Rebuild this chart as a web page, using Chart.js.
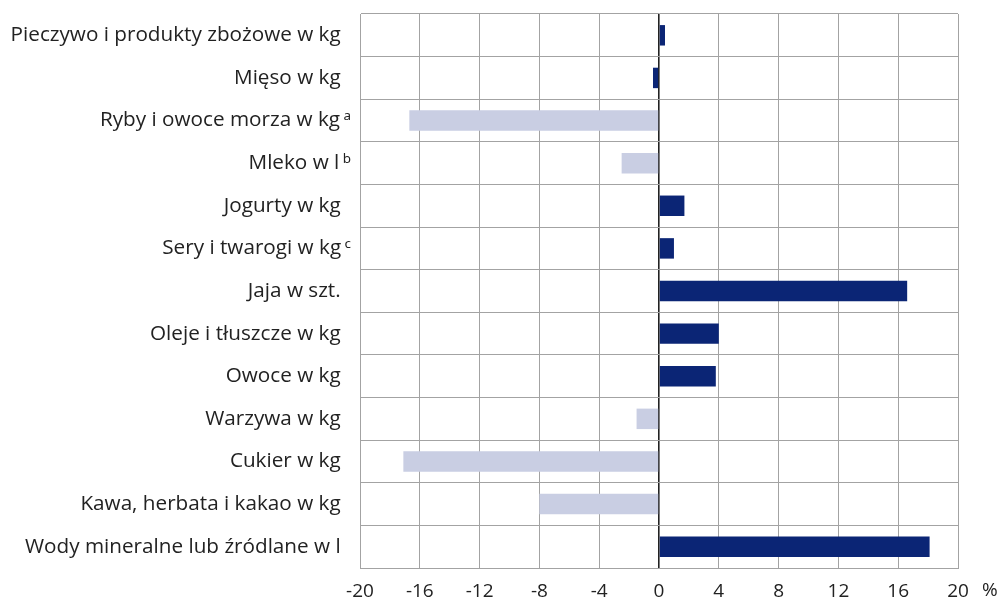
<!DOCTYPE html>
<html>
<head>
<meta charset="utf-8">
<script src="https://cdn.jsdelivr.net/npm/chart.js@4"></script>
<style>
html,body{margin:0;padding:0;background:#fff;}
#wrap{width:999px;height:605px;position:relative;}
</style>
</head>
<body>
<div id="wrap"><canvas id="c" width="999" height="605"></canvas></div>
<script>
const categories = [
  "Pieczywo i produkty zbożowe w kg\u2002",
  "Mięso w kg\u2002",
  "Ryby i owoce morza w kg\u2009ᵃ",
  "Mleko w l\u2009ᵇ",
  "Jogurty w kg\u2002",
  "Sery i twarogi w kg\u2009ᶜ",
  "Jaja w szt.\u2002",
  "Oleje i tłuszcze w kg\u2002",
  "Owoce w kg\u2002",
  "Warzywa w kg\u2002",
  "Cukier w kg\u2002",
  "Kawa, herbata i kakao w kg\u2002",
  "Wody mineralne lub źródlane w l\u2002"
];
const values = [0.4, -0.4, -16.7, -2.5, 1.7, 1.0, 16.6, 4.0, 3.8, -1.5, -17.1, -8.0, 18.1];
// group of each category as shown in the reference (dark = group A, light = group B)
const groups = ["A", "A", "B", "B", "A", "A", "A", "A", "A", "B", "B", "B", "A"];
const tickValues = [-20, -16, -12, -8, -4, 0, 4, 8, 12, 16, 20];
const unitLabel = "%";

const DARK = "#0b2575";
const LIGHT = "#c9cee3";
const GRID = "#a3a3a3";
const FONT = "'Open Sans', 'Noto Sans', sans-serif";

const percentPlugin = {
  id: 'percentUnit',
  afterDraw(chart) {
    const x = chart.scales.x;
    const ctx = chart.ctx;
    const px = x.getPixelForValue(tickValues[tickValues.length - 1]);
    ctx.save();
    ctx.font = "19px " + FONT;
    ctx.fillStyle = "#222";
    ctx.textAlign = "left";
    ctx.textBaseline = "middle";
    ctx.fillText(unitLabel, px + 24, x.top + 12 + 11);
    ctx.restore();
  }
};

new Chart(document.getElementById('c'), {
  type: 'bar',
  data: {
    labels: categories,
    datasets: [{
      data: values,
      backgroundColor: groups.map(g => g === "A" ? DARK : LIGHT),
      borderWidth: 0,
      categoryPercentage: 1,
      barPercentage: 0.48
    }]
  },
  options: {
    indexAxis: 'y',
    responsive: false,
    animation: false,
    devicePixelRatio: 1,
    layout: { padding: { top: 14, right: 41, left: 0, bottom: 0 } },
    plugins: { legend: { display: false }, tooltip: { enabled: false } },
    scales: {
      x: {
        min: -20, max: 20,
        afterBuildTicks: s => { s.ticks = tickValues.map(v => ({ value: v })); },
        afterFit: s => { s.height = 37; s.paddingLeft = 0; s.paddingRight = 0; },
        grid: {
          drawTicks: false,
          color: ctx => (ctx.tick && ctx.tick.value === 0) ? '#222' : GRID,
          lineWidth: ctx => (ctx.tick && ctx.tick.value === 0) ? 1.6 : 1
        },
        border: { display: true, color: GRID, width: 1 },
        ticks: {
          padding: 12,
          color: '#222',
          font: { family: FONT, size: 19 },
          autoSkip: false,
          maxRotation: 0
        }
      },
      y: {
        afterFit: s => { s.width = 360; s.paddingTop = 0; s.paddingBottom = 0; },
        grid: { drawTicks: false, color: GRID, lineWidth: 1, offset: true },
        border: { display: true, color: GRID, width: 1 },
        ticks: {
          padding: 9,
          color: '#222',
          font: { family: FONT, size: 20.7 },
          autoSkip: false
        }
      }
    }
  },
  plugins: [percentPlugin]
});
</script>
</body>
</html>
